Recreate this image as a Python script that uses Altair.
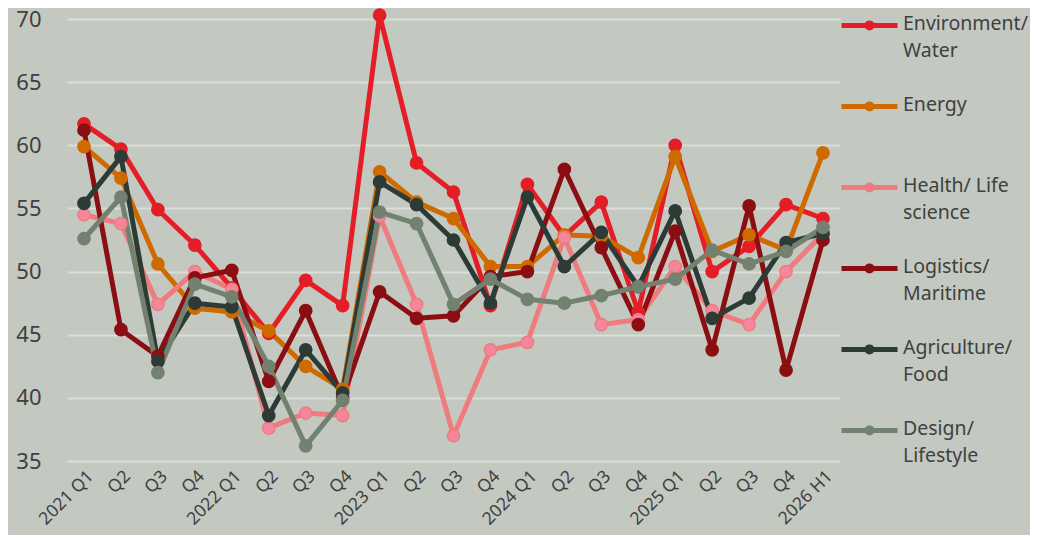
import altair as alt
import pandas as pd

periods = ["2021 Q1", "2021 Q2", "2021 Q3", "2021 Q4",
           "2022 Q1", "2022 Q2", "2022 Q3", "2022 Q4",
           "2023 Q1", "2023 Q2", "2023 Q3", "2023 Q4",
           "2024 Q1", "2024 Q2", "2024 Q3", "2024 Q4",
           "2025 Q1", "2025 Q2", "2025 Q3", "2025 Q4",
           "2026 H1"]

series = ["Environment/ Water", "Energy", "Health/ Life science",
          "Logistics/ Maritime", "Agriculture/ Food", "Design/ Lifestyle"]
legend_lines = [["Environment/", "Water"], ["Energy"], ["Health/ Life", "science"],
                ["Logistics/", "Maritime"], ["Agriculture/", "Food"], ["Design/", "Lifestyle"]]

env = [61.7, 59.7, 54.9, 52.1, 48.7, 45.1, 49.3, 47.3, 70.3, 58.6, 56.3, 47.3,
       56.9, 52.8, 55.5, 46.8, 60.0, 50.0, 52.0, 55.3, 54.2]
energy = [59.9, 57.4, 50.6, 47.1, 46.8, 45.3, 42.5, 40.7, 57.9, 55.5, 54.2, 50.4,
          50.4, 52.9, 52.8, 51.1, 59.1, 51.6, 52.9, 51.7, 59.4]
health = [54.5, 53.8, 47.4, 50.0, 48.6, 37.6, 38.8, 38.6, 54.4, 47.4, 37.0, 43.8,
          44.4, 52.7, 45.8, 46.2, 50.4, 46.9, 45.8, 50.0, 53.0]
logistics = [61.2, 45.4, 43.3, 49.5, 50.1, 41.3, 46.9, 40.0, 48.4, 46.3, 46.5, 49.6,
             50.0, 58.1, 51.9, 45.8, 53.2, 43.8, 55.2, 42.2, 52.5]
agri = [55.4, 59.1, 42.9, 47.5, 47.2, 38.6, 43.8, 40.4, 57.1, 55.3, 52.5, 47.5,
        55.9, 50.4, 53.1, 48.8, 54.8, 46.3, 47.9, 52.3, 53.0]
design = [52.6, 55.9, 42.0, 49.0, 48.0, 42.5, 36.2, 39.8, 54.7, 53.8, 47.4, 49.4,
          47.8, 47.5, 48.1, 48.8, 49.4, 51.7, 50.6, 51.6, 53.5]

line_colors = ["#E41E26", "#CF6A00", "#F07B7E", "#8B0E12", "#2D3B36", "#728170"]
marker_fills = ["#E41E26", "#CF6A00", "#F5879D", "#8B0E12", "#2D3B36", "#728170"]

y_ticks = [35, 40, 45, 50, 55, 60, 65, 70]

values = [env, energy, health, logistics, agri, design]
rows = []
for s, vals in zip(series, values):
    for p, v in zip(periods, vals):
        rows.append({"period": p, "series": s, "value": v})
df = pd.DataFrame(rows)

label_map = "{" + ", ".join(
    "'" + s + "': [" + ", ".join("'" + l + "'" for l in lines) + "]"
    for s, lines in zip(series, legend_lines)) + "}"

FONT = "Noto Sans"
TXT = "#404040"

x_enc = alt.X("period:N", sort=periods,
              scale=alt.Scale(type="point", padding=0.46),
              axis=alt.Axis(title=None, labelAngle=315, ticks=False, domain=False, grid=False,
                            labelFont=FONT, labelFontSize=17.5, labelColor=TXT, labelPadding=6,
                            labelExpr="(indexof(datum.label, 'Q1') >= 0 || indexof(datum.label, 'H1') >= 0) ? datum.label : slice(datum.label, 5)"))
y_enc = alt.Y("value:Q", scale=alt.Scale(domain=[35, 70], nice=False, zero=False),
              axis=alt.Axis(title=None, values=y_ticks, grid=True, gridColor="#DADDD8", gridWidth=2,
                            domain=False, ticks=False, labelFont=FONT, labelFontSize=22,
                            labelColor=TXT, labelPadding=26))

sym_path = "M-1,0.39L1,0.39M0.09,0.39A0.09,0.09,0,1,1,-0.09,0.39A0.09,0.09,0,1,1,0.09,0.39"

lines = alt.Chart(df).mark_line(strokeWidth=5, strokeJoin="round", clip=False).encode(
    x=x_enc, y=y_enc,
    color=alt.Color("series:N", sort=series,
                    scale=alt.Scale(domain=series, range=line_colors),
                    legend=alt.Legend(title=None, orient="none", legendX=772, legendY=-35,
                                      symbolType=sym_path, symbolSize=3136, symbolStrokeWidth=5,
                                      labelExpr=label_map + "[datum.label]",
                                      labelFont=FONT, labelFontSize=19.5, labelColor=TXT,
                                      labelBaseline="top", labelOffset=3, labelLimit=250,
                                      rowPadding=5, gridAlign="all")),
    order=alt.Order("period:N")
)

points = alt.Chart(df).mark_circle(size=150, opacity=1, strokeWidth=1.5, clip=False).encode(
    x=x_enc, y=y_enc,
    fill=alt.Fill("series:N", scale=alt.Scale(domain=series, range=marker_fills), legend=None),
    stroke=alt.Stroke("series:N", scale=alt.Scale(domain=series, range=line_colors), legend=None),
)

chart = alt.layer(lines, points).properties(
    width=773, height=442,
    padding={"left": 59, "top": 11, "right": 190, "bottom": 74},
    autosize=alt.AutoSizeParams(type="none"),
    background="#C3C9C0",
).configure(style={"guide-label": {"lineHeight": 27}}).configure_view(stroke=None)

chart.save("out.html", embed_options={"renderer": "svg", "actions": False})
